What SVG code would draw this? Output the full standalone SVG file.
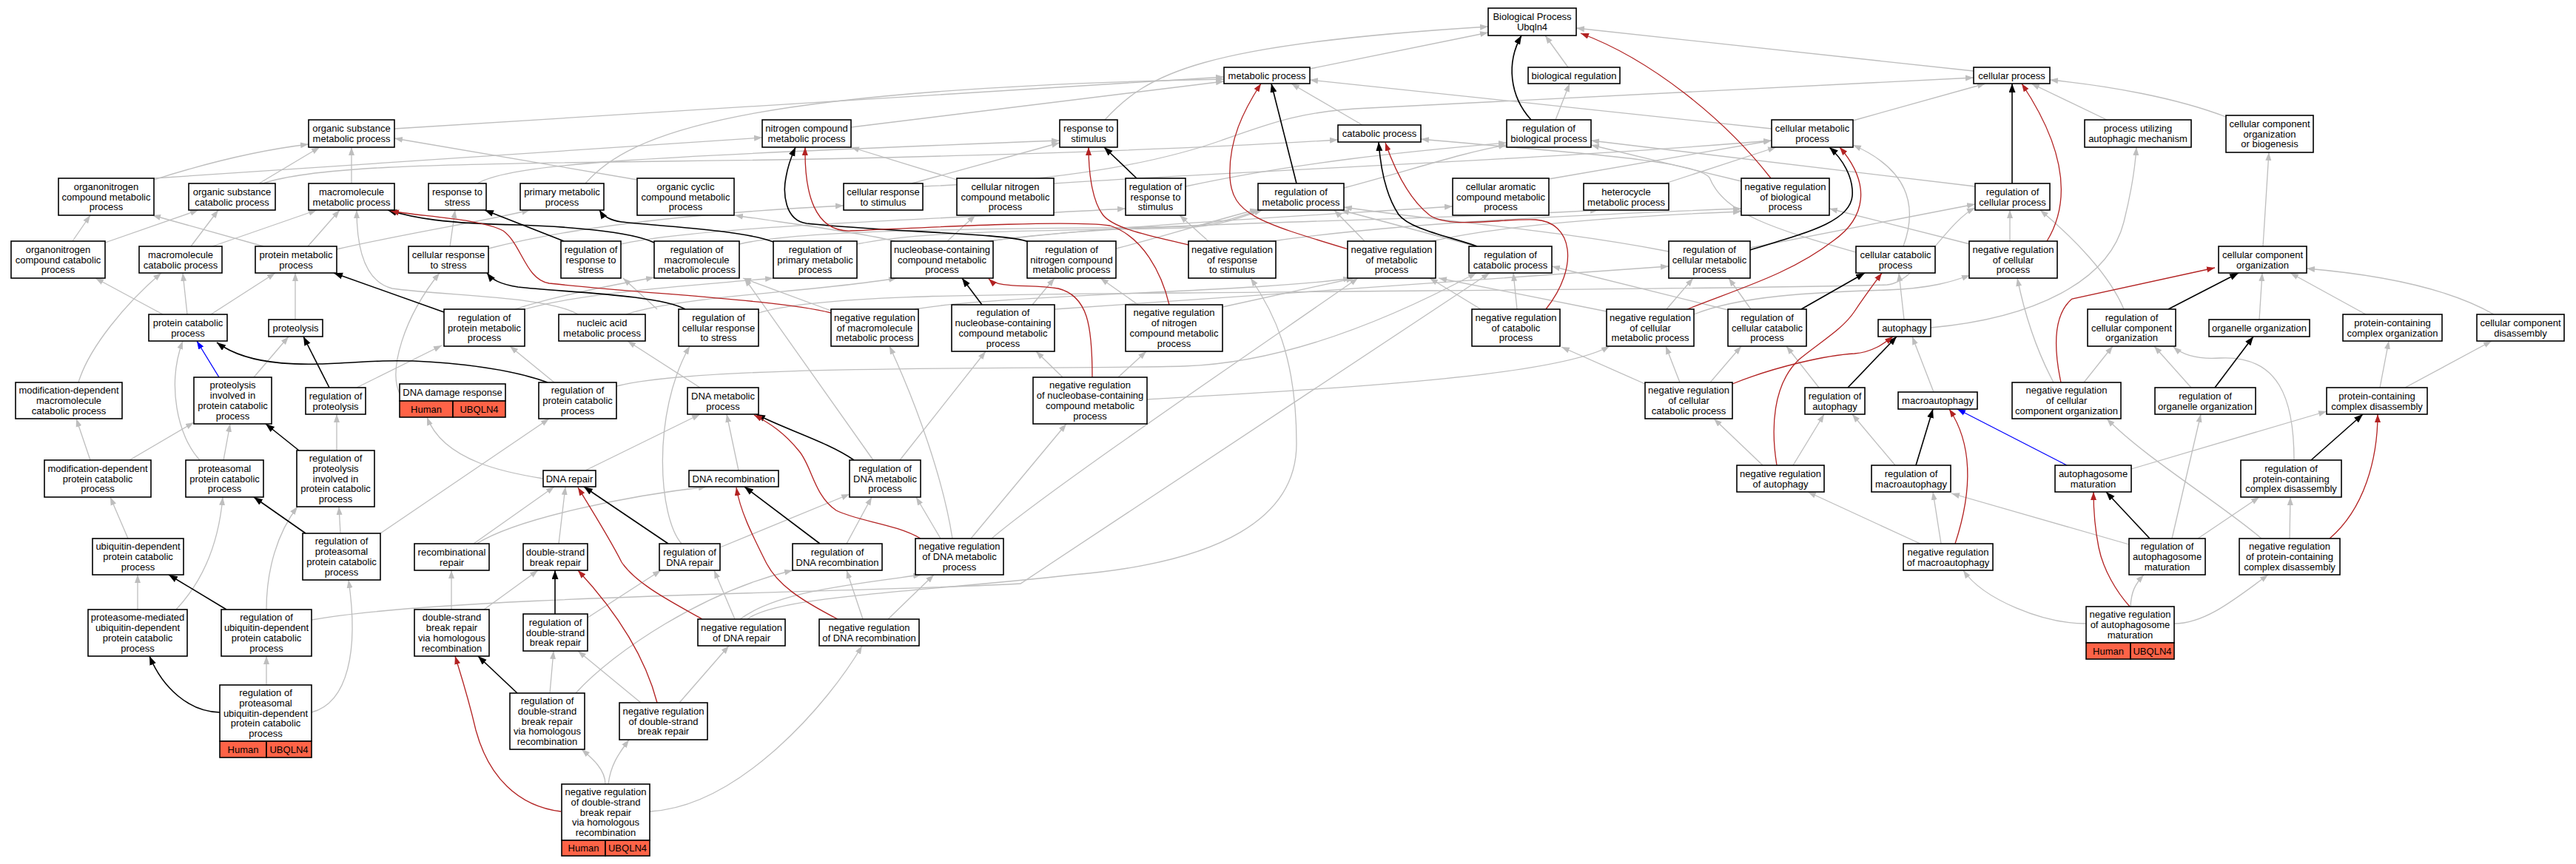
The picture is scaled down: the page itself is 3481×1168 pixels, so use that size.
<svg xmlns="http://www.w3.org/2000/svg" width="3481" height="1168" viewBox="0 0 3481 1168">
<style>
.g{fill:none;stroke:#bebebe;stroke-width:1.3;marker-end:url(#ag)}
.k{fill:none;stroke:#000;stroke-width:1.6;marker-end:url(#ak)}
.r{fill:none;stroke:#b22222;stroke-width:1.3;marker-end:url(#ar)}
.b{fill:none;stroke:#0000ff;stroke-width:1.3;marker-end:url(#ab)}
.n rect{fill:#fff;stroke:#000;stroke-width:1.6}
.n rect.h{fill:#ff6347}
text{font-family:"Liberation Sans",Arial,Helvetica,sans-serif;font-size:13px;text-anchor:middle;fill:#000}
</style>
<defs>
<marker id="ag" markerUnits="userSpaceOnUse" markerWidth="12" markerHeight="9" refX="11" refY="4.5" orient="auto"><path d="M0,0.5 L11,4.5 L0,8.5 z" fill="#bebebe"/></marker>
<marker id="ab" markerUnits="userSpaceOnUse" markerWidth="12" markerHeight="9" refX="11" refY="4.5" orient="auto"><path d="M0,0.5 L11,4.5 L0,8.5 z" fill="#0000ff"/></marker>
<marker id="ak" markerUnits="userSpaceOnUse" markerWidth="13" markerHeight="10" refX="12" refY="4.5" orient="auto"><path d="M0,0 L12,4.5 L0,9 z" fill="#000"/></marker>
<marker id="ar" markerUnits="userSpaceOnUse" markerWidth="12" markerHeight="9" refX="11" refY="4" orient="auto"><path d="M0,0 L11,4 L0,8 z" fill="#b22222"/></marker>
</defs>
<rect x="0" y="0" width="3481" height="1168" fill="#fff"/>
<g id="edges">
<path class="g" d="M1770 93 L2011 44"/>
<path class="g" d="M1493 162 C1550 100 1620 60 2011 36"/>
<path class="g" d="M2667 96 L2130 38"/>
<path class="g" d="M2119 91 L2088 48"/>
<path class="g" d="M2102 162 L2121 113"/>
<path class="g" d="M533 174 L1654 104"/>
<path class="g" d="M1150 172 L1654 110"/>
<path class="g" d="M1841 169 L1745 113"/>
<path class="g" d="M791 248 C850 180 1000 120 1654 107"/>
<path class="g" d="M2394 174 L1770 108"/>
<path class="g" d="M2504 163 L2683 113"/>
<path class="g" d="M2847 162 L2745 113"/>
<path class="g" d="M3008 158 C2940 132 2850 116 2770 108"/>
<path class="g" d="M1247 252 C1420 245 1550 225 1650 190 C1720 165 1760 150 1850 146 L2667 105"/>
<path class="g" d="M208 243 C280 220 350 203 417 195"/>
<path class="g" d="M208 241 L1030 186"/>
<path class="g" d="M350 248 L432 199"/>
<path class="g" d="M355 248 C420 226 560 222 900 218 C1100 216 1500 208 1808 189"/>
<path class="g" d="M475 248 L475 199"/>
<path class="g" d="M645 248 C690 222 850 212 1432 190"/>
<path class="g" d="M861 243 L533 187"/>
<path class="g" d="M1232 248 L1432 193"/>
<path class="g" d="M1293 243 L1150 199"/>
<path class="g" d="M1424 248 C1700 230 2100 215 2394 190"/>
<path class="g" d="M1602 252 C1750 220 1900 205 2036 193"/>
<path class="g" d="M1816 254 C1900 232 1980 205 2036 196"/>
<path class="g" d="M2669 252 L2150 190"/>
<path class="g" d="M2353 245 L2150 196"/>
<path class="g" d="M2093 242 L2394 190"/>
<path class="g" d="M2250 248 L2400 199"/>
<path class="g" d="M2572 333 C2595 270 2570 225 2504 196"/>
<path class="g" d="M2508 341 C2400 310 2330 290 2310 240 C2290 215 2100 205 1920 188"/>
<path class="g" d="M2716 326 L2716 284"/>
<path class="g" d="M2662 330 L2472 282"/>
<path class="g" d="M3058 333 L3066 206"/>
<path class="g" d="M98 326 L122 291"/>
<path class="g" d="M142 328 L268 284"/>
<path class="g" d="M258 333 L295 284"/>
<path class="g" d="M287 333 L428 284"/>
<path class="g" d="M416 333 L459 284"/>
<path class="g" d="M356 333 L206 291"/>
<path class="g" d="M455 337 C550 315 650 300 716 284"/>
<path class="g" d="M608 333 L615 284"/>
<path class="g" d="M660 336 C800 300 1000 285 1140 278"/>
<path class="g" d="M839 330 C950 305 1300 295 1521 282"/>
<path class="g" d="M999 330 C1100 306 1450 310 1600 306 C1650 304 1680 290 1702 284"/>
<path class="g" d="M1158 330 C1250 310 1450 312 1600 308 C1650 306 1680 292 1706 284"/>
<path class="g" d="M1280 326 L1318 291"/>
<path class="g" d="M1210 326 C1150 312 1050 300 993 291"/>
<path class="g" d="M1335 326 C1500 305 1800 290 1963 279"/>
<path class="g" d="M1338 326 C1500 300 1900 300 2160 284"/>
<path class="g" d="M1508 336 C1580 318 1650 295 1700 283"/>
<path class="g" d="M1633 326 L1594 291"/>
<path class="g" d="M1720 326 C1900 300 2150 290 2353 282"/>
<path class="g" d="M1844 326 L1803 284"/>
<path class="g" d="M1935 326 C2050 300 2250 290 2353 286"/>
<path class="g" d="M1995 333 L1812 284"/>
<path class="g" d="M2255 340 C2100 310 1950 300 1816 280"/>
<path class="g" d="M2365 335 L2669 276"/>
<path class="g" d="M253 425 L247 369"/>
<path class="g" d="M285 425 L372 369"/>
<path class="g" d="M220 425 L129 376"/>
<path class="g" d="M399 432 L399 369"/>
<path class="g" d="M696 418 C750 400 830 385 884 375"/>
<path class="g" d="M703 420 C780 395 950 385 1045 376"/>
<path class="g" d="M781 425 C740 400 600 400 530 390 C490 380 482 330 482 284"/>
<path class="g" d="M846 425 C920 400 1100 395 1212 376"/>
<path class="g" d="M888 418 L842 376"/>
<path class="g" d="M1025 423 C1100 400 1300 398 1600 396 C2000 392 2400 390 2550 385 C2590 382 2630 300 2669 281"/>
<path class="g" d="M1123 420 L1004 376"/>
<path class="g" d="M1236 418 C1350 398 1700 395 1826 376"/>
<path class="g" d="M1395 412 L1425 376"/>
<path class="g" d="M1425 418 C1700 400 2100 370 2255 360"/>
<path class="g" d="M1538 412 L1487 376"/>
<path class="g" d="M1652 415 L1830 376"/>
<path class="g" d="M2050 418 L2045 369"/>
<path class="g" d="M2001 418 L1932 376"/>
<path class="g" d="M2252 418 L2288 376"/>
<path class="g" d="M2171 421 L1944 376"/>
<path class="g" d="M2289 425 C2350 400 2450 395 2550 392 C2610 390 2640 380 2662 372"/>
<path class="g" d="M2366 418 L2336 376"/>
<path class="g" d="M2339 420 L2097 360"/>
<path class="g" d="M2573 432 L2566 369"/>
<path class="g" d="M2609 443 C2750 430 2850 380 2870 300 C2880 260 2885 230 2887 199"/>
<path class="g" d="M2870 418 C2850 370 2800 320 2757 284"/>
<path class="g" d="M3053 432 L3057 369"/>
<path class="g" d="M3197 425 L3095 369"/>
<path class="g" d="M3370 425 C3300 385 3200 370 3117 363"/>
<path class="g" d="M106 517 C120 470 170 410 218 369"/>
<path class="g" d="M343 510 L390 455"/>
<path class="g" d="M482 524 L597 467"/>
<path class="g" d="M540 532 C525 500 545 430 594 369"/>
<path class="g" d="M749 517 L689 468"/>
<path class="g" d="M833 522 C950 492 1400 500 1600 495 C1750 490 1900 420 1995 369"/>
<path class="g" d="M946 524 L848 461"/>
<path class="g" d="M1436 510 L1400 475"/>
<path class="g" d="M1511 510 L1549 475"/>
<path class="g" d="M1550 540 C1800 525 2100 510 2175 468"/>
<path class="g" d="M2423 629 L2465 560"/>
<path class="g" d="M2382 629 L2316 566"/>
<path class="g" d="M2561 629 L2503 560"/>
<path class="g" d="M2880 634 L3144 556"/>
<path class="g" d="M3100 622 C3100 540 3080 480 3000 484 C2970 486 2950 480 2937 469"/>
<path class="g" d="M2623 735 L2612 665"/>
<path class="g" d="M2595 735 L2443 665"/>
<path class="g" d="M2877 736 L2637 667"/>
<path class="g" d="M2935 728 L2974 560"/>
<path class="g" d="M2970 728 L3053 672"/>
<path class="g" d="M3094 728 L3095 672"/>
<path class="g" d="M3056 728 C3000 680 2900 620 2847 566"/>
<path class="g" d="M2816 517 L2855 468"/>
<path class="g" d="M2775 517 C2750 470 2735 420 2726 376"/>
<path class="g" d="M2961 524 L2911 468"/>
<path class="g" d="M3216 524 L3228 461"/>
<path class="g" d="M3250 524 L3367 461"/>
<path class="g" d="M2458 524 L2414 468"/>
<path class="g" d="M2613 530 L2584 455"/>
<path class="g" d="M2311 517 L2353 468"/>
<path class="g" d="M2270 517 L2251 468"/>
<path class="g" d="M2223 519 L2110 469"/>
<path class="g" d="M122 622 L103 566"/>
<path class="g" d="M175 622 L262 571"/>
<path class="g" d="M302 622 L311 573"/>
<path class="g" d="M270 622 C240 590 225 520 247 461"/>
<path class="g" d="M455 609 L455 560"/>
<path class="g" d="M734 647 C690 640 600 625 577 564"/>
<path class="g" d="M791 636 L946 560"/>
<path class="g" d="M998 636 L982 560"/>
<path class="g" d="M1216 622 L1332 475"/>
<path class="g" d="M1180 622 L1006 376"/>
<path class="g" d="M173 728 L149 672"/>
<path class="g" d="M460 721 L458 685"/>
<path class="g" d="M514 721 L742 566"/>
<path class="g" d="M640 735 L749 658"/>
<path class="g" d="M644 735 C700 700 850 670 955 658"/>
<path class="g" d="M755 735 L764 658"/>
<path class="g" d="M973 740 L1148 668"/>
<path class="g" d="M921 735 C890 700 880 560 932 468"/>
<path class="g" d="M1144 735 L1178 672"/>
<path class="g" d="M1271 728 L1238 672"/>
<path class="g" d="M1312 728 L1441 573"/>
<path class="g" d="M1287 728 C1275 650 1240 550 1202 468"/>
<path class="g" d="M1340 728 C1420 660 1700 470 1835 376"/>
<path class="g" d="M186 824 L186 777"/>
<path class="g" d="M238 824 C270 790 295 740 301 672"/>
<path class="g" d="M360 824 C360 770 375 720 402 685"/>
<path class="g" d="M421 838 C600 805 1200 800 1379 789 L2013 369"/>
<path class="g" d="M610 824 L610 771"/>
<path class="g" d="M654 824 L727 771"/>
<path class="g" d="M794 835 L893 771"/>
<path class="g" d="M993 837 L965 771"/>
<path class="g" d="M1000 837 C1050 800 1150 790 1245 777"/>
<path class="g" d="M1010 837 C1050 805 1250 800 1450 777 C1650 760 1752 700 1752 600 C1752 480 1720 420 1690 376"/>
<path class="g" d="M1166 837 L1144 771"/>
<path class="g" d="M1200 837 L1262 777"/>
<path class="g" d="M360 926 L360 887"/>
<path class="g" d="M421 963 C470 950 485 880 471 784"/>
<path class="g" d="M743 937 L748 880"/>
<path class="g" d="M778 937 C830 880 950 800 1071 771"/>
<path class="g" d="M866 950 L781 880"/>
<path class="g" d="M918 950 L985 873"/>
<path class="g" d="M818 1060 C818 1040 800 1025 786 1013"/>
<path class="g" d="M822 1060 C825 1035 835 1020 850 1000"/>
<path class="g" d="M878 1097 C1000 1090 1120 950 1165 873"/>
<path class="g" d="M2879 820 C2880 800 2885 790 2897 777"/>
<path class="g" d="M2819 843 C2760 843 2680 810 2653 771"/>
<path class="g" d="M2938 843 C2980 843 3020 810 3065 777"/>
<path class="k" d="M2069 162 C2040 130 2035 85 2056 48"/>
<path class="k" d="M1752 248 L1718 113"/>
<path class="k" d="M1536 241 L1492 199"/>
<path class="k" d="M762 326 L655 284"/>
<path class="k" d="M2719 248 L2719 113"/>
<path class="k" d="M2365 338 C2440 315 2500 300 2503 265 C2505 240 2490 215 2472 199"/>
<path class="k" d="M1996 333 C1960 320 1905 310 1890 290 C1870 260 1865 220 1863 192"/>
<path class="k" d="M884 328 C850 312 760 306 700 304 C600 302 560 295 524 284"/>
<path class="k" d="M1045 327 C1000 310 880 305 840 300 C825 298 815 292 810 284"/>
<path class="k" d="M1390 327 C1360 315 1200 314 1090 302 C1060 298 1058 260 1062 240 C1065 222 1070 210 1075 199"/>
<path class="k" d="M1327 412 L1300 376"/>
<path class="k" d="M600 422 L451 369"/>
<path class="k" d="M926 418 C890 398 760 395 700 388 C675 384 665 378 658 369"/>
<path class="k" d="M740 517 C680 495 580 486 517 488 C450 490 350 505 293 463"/>
<path class="k" d="M445 524 L410 455"/>
<path class="k" d="M404 609 L359 573"/>
<path class="k" d="M413 721 L343 672"/>
<path class="k" d="M306 824 L228 777"/>
<path class="k" d="M297 963 C255 962 220 930 202 887"/>
<path class="k" d="M903 735 L789 658"/>
<path class="k" d="M1108 735 L1006 658"/>
<path class="k" d="M1154 622 C1120 598 1060 580 1022 560"/>
<path class="k" d="M750 830 L750 771"/>
<path class="k" d="M699 937 L646 887"/>
<path class="k" d="M2434 418 L2520 369"/>
<path class="k" d="M2497 524 L2563 455"/>
<path class="k" d="M2589 629 L2612 553"/>
<path class="k" d="M2905 728 L2846 665"/>
<path class="k" d="M3123 622 L3193 560"/>
<path class="k" d="M2930 418 L3025 369"/>
<path class="k" d="M2993 524 L3045 455"/>
<path class="r" d="M2393 241 C2330 160 2230 80 2136 45"/>
<path class="r" d="M1822 337 C1700 300 1665 290 1662 240 C1660 190 1680 150 1704 113"/>
<path class="r" d="M1606 331 C1560 320 1505 310 1490 290 C1475 270 1471 230 1471 199"/>
<path class="r" d="M1580 412 C1570 370 1545 320 1500 305 C1450 298 1300 305 1150 312 C1100 314 1087 260 1088 199"/>
<path class="r" d="M1476 510 C1476 440 1470 400 1430 390 C1390 384 1350 390 1336 377"/>
<path class="r" d="M1123 423 C1050 405 880 398 742 383 C710 378 705 330 680 312 C650 295 560 292 528 285"/>
<path class="r" d="M2089 418 C2135 360 2125 300 2075 297 C2030 295 1960 310 1932 291 C1905 270 1885 230 1872 193"/>
<path class="r" d="M2280 418 C2350 390 2420 370 2478 325 C2520 295 2530 250 2486 199"/>
<path class="r" d="M2341 519 C2400 495 2470 480 2506 478 C2530 476 2545 465 2558 455"/>
<path class="r" d="M2401 629 C2393 580 2395 520 2431 486 C2460 462 2490 445 2506 421 C2520 400 2532 384 2543 369"/>
<path class="r" d="M2642 735 C2660 680 2672 610 2634 553"/>
<path class="r" d="M2878 820 C2860 800 2842 770 2836 740 C2830 710 2829 690 2829 665"/>
<path class="r" d="M3148 728 C3195 688 3213 620 3213 560"/>
<path class="r" d="M2785 517 C2775 470 2775 425 2800 404 L2993 362"/>
<path class="r" d="M2766 326 C2800 270 2790 200 2732 113"/>
<path class="r" d="M1244 728 C1210 708 1160 705 1130 690 C1100 670 1097 630 1080 610 C1060 585 1040 572 1019 561"/>
<path class="r" d="M949 837 C910 815 860 790 840 760 C825 730 800 690 781 659"/>
<path class="r" d="M1132 837 C1080 810 1050 790 1035 760 C1015 720 1000 690 995 659"/>
<path class="r" d="M888 950 C875 900 845 840 781 771"/>
<path class="r" d="M758 1097 C700 1090 660 1050 643 987 C632 940 622 910 615 887"/>
<path class="b" d="M296 510 L266 461"/>
<path class="b" d="M2793 629 L2645 553"/>
</g>
<g id="n_bp" class="n"><rect x="2011" y="11" width="119" height="37"/><text x="2070.5" y="27.2">Biological Process</text><text x="2070.5" y="41">Ubqln4</text></g>
<g id="n_met" class="n"><rect x="1654" y="91" width="116" height="22"/><text x="1712" y="106.6">metabolic process</text></g>
<g id="n_bioreg" class="n"><rect x="2065" y="91" width="124" height="22"/><text x="2127" y="106.6">biological regulation</text></g>
<g id="n_cp" class="n"><rect x="2667" y="91" width="103" height="22"/><text x="2718.5" y="106.6">cellular process</text></g>
<g id="n_osmp" class="n"><rect x="417" y="162" width="116" height="37"/><text x="475" y="178.2">organic substance</text><text x="475" y="192">metabolic process</text></g>
<g id="n_ncmp" class="n"><rect x="1030" y="162" width="120" height="37"/><text x="1090" y="178.2">nitrogen compound</text><text x="1090" y="192">metabolic process</text></g>
<g id="n_rts" class="n"><rect x="1432" y="162" width="78" height="37"/><text x="1471" y="178.2">response to</text><text x="1471" y="192">stimulus</text></g>
<g id="n_cat" class="n"><rect x="1808" y="169" width="112" height="23"/><text x="1864" y="185.1">catabolic process</text></g>
<g id="n_rbp" class="n"><rect x="2036" y="162" width="114" height="37"/><text x="2093" y="178.2">regulation of</text><text x="2093" y="192">biological process</text></g>
<g id="n_cmp" class="n"><rect x="2394" y="162" width="110" height="37"/><text x="2449" y="178.2">cellular metabolic</text><text x="2449" y="192">process</text></g>
<g id="n_puam" class="n"><rect x="2817" y="162" width="144" height="37"/><text x="2889" y="178.2">process utilizing</text><text x="2889" y="192">autophagic mechanism</text></g>
<g id="n_ccob" class="n"><rect x="3008" y="156" width="118" height="50"/><text x="3067" y="171.8">cellular component</text><text x="3067" y="185.6">organization</text><text x="3067" y="199.4">or biogenesis</text></g>
<g id="n_oncmp" class="n"><rect x="79" y="241" width="129" height="50"/><text x="143.5" y="256.8">organonitrogen</text><text x="143.5" y="270.6">compound metabolic</text><text x="143.5" y="284.4">process</text></g>
<g id="n_oscp" class="n"><rect x="255" y="248" width="117" height="36"/><text x="313.5" y="263.7">organic substance</text><text x="313.5" y="277.5">catabolic process</text></g>
<g id="n_mmp" class="n"><rect x="417" y="248" width="116" height="36"/><text x="475" y="263.7">macromolecule</text><text x="475" y="277.5">metabolic process</text></g>
<g id="n_rstress" class="n"><rect x="579" y="248" width="78" height="36"/><text x="618" y="263.7">response to</text><text x="618" y="277.5">stress</text></g>
<g id="n_pmp" class="n"><rect x="703" y="248" width="113" height="36"/><text x="759.5" y="263.7">primary metabolic</text><text x="759.5" y="277.5">process</text></g>
<g id="n_occmp" class="n"><rect x="861" y="241" width="131" height="50"/><text x="926.5" y="256.8">organic cyclic</text><text x="926.5" y="270.6">compound metabolic</text><text x="926.5" y="284.4">process</text></g>
<g id="n_crs2" class="n"><rect x="1140" y="248" width="107" height="36"/><text x="1193.5" y="263.7">cellular response</text><text x="1193.5" y="277.5">to stimulus</text></g>
<g id="n_cncmp" class="n"><rect x="1293" y="241" width="131" height="50"/><text x="1358.5" y="256.8">cellular nitrogen</text><text x="1358.5" y="270.6">compound metabolic</text><text x="1358.5" y="284.4">process</text></g>
<g id="n_rrstim" class="n"><rect x="1521" y="241" width="81" height="50"/><text x="1561.5" y="256.8">regulation of</text><text x="1561.5" y="270.6">response to</text><text x="1561.5" y="284.4">stimulus</text></g>
<g id="n_rmp" class="n"><rect x="1700" y="248" width="116" height="36"/><text x="1758" y="263.7">regulation of</text><text x="1758" y="277.5">metabolic process</text></g>
<g id="n_cacmp" class="n"><rect x="1963" y="241" width="130" height="50"/><text x="2028" y="256.8">cellular aromatic</text><text x="2028" y="270.6">compound metabolic</text><text x="2028" y="284.4">process</text></g>
<g id="n_hmp" class="n"><rect x="2140" y="248" width="115" height="36"/><text x="2197.5" y="263.7">heterocycle</text><text x="2197.5" y="277.5">metabolic process</text></g>
<g id="n_nrbp" class="n"><rect x="2353" y="241" width="119" height="50"/><text x="2412.5" y="256.8">negative regulation</text><text x="2412.5" y="270.6">of biological</text><text x="2412.5" y="284.4">process</text></g>
<g id="n_rcp" class="n"><rect x="2669" y="248" width="101" height="36"/><text x="2719.5" y="263.7">regulation of</text><text x="2719.5" y="277.5">cellular process</text></g>
<g id="n_onccp" class="n"><rect x="15" y="326" width="127" height="50"/><text x="78.5" y="341.8">organonitrogen</text><text x="78.5" y="355.6">compound catabolic</text><text x="78.5" y="369.4">process</text></g>
<g id="n_mcp" class="n"><rect x="188" y="333" width="112" height="36"/><text x="244" y="348.7">macromolecule</text><text x="244" y="362.5">catabolic process</text></g>
<g id="n_protmp" class="n"><rect x="345" y="333" width="110" height="36"/><text x="400" y="348.7">protein metabolic</text><text x="400" y="362.5">process</text></g>
<g id="n_crstress" class="n"><rect x="552" y="333" width="108" height="36"/><text x="606" y="348.7">cellular response</text><text x="606" y="362.5">to stress</text></g>
<g id="n_rrstress" class="n"><rect x="758" y="326" width="81" height="50"/><text x="798.5" y="341.8">regulation of</text><text x="798.5" y="355.6">response to</text><text x="798.5" y="369.4">stress</text></g>
<g id="n_rmmp" class="n"><rect x="884" y="326" width="115" height="50"/><text x="941.5" y="341.8">regulation of</text><text x="941.5" y="355.6">macromolecule</text><text x="941.5" y="369.4">metabolic process</text></g>
<g id="n_rpmp" class="n"><rect x="1045" y="326" width="113" height="50"/><text x="1101.5" y="341.8">regulation of</text><text x="1101.5" y="355.6">primary metabolic</text><text x="1101.5" y="369.4">process</text></g>
<g id="n_nccmp" class="n"><rect x="1204" y="326" width="138" height="50"/><text x="1273" y="341.8">nucleobase-containing</text><text x="1273" y="355.6">compound metabolic</text><text x="1273" y="369.4">process</text></g>
<g id="n_rncmp" class="n"><rect x="1388" y="326" width="120" height="50"/><text x="1448" y="341.8">regulation of</text><text x="1448" y="355.6">nitrogen compound</text><text x="1448" y="369.4">metabolic process</text></g>
<g id="n_nrrs" class="n"><rect x="1606" y="326" width="118" height="50"/><text x="1665" y="341.8">negative regulation</text><text x="1665" y="355.6">of response</text><text x="1665" y="369.4">to stimulus</text></g>
<g id="n_nrmp" class="n"><rect x="1821" y="326" width="119" height="50"/><text x="1880.5" y="341.8">negative regulation</text><text x="1880.5" y="355.6">of metabolic</text><text x="1880.5" y="369.4">process</text></g>
<g id="n_rcatp" class="n"><rect x="1985" y="333" width="112" height="36"/><text x="2041" y="348.7">regulation of</text><text x="2041" y="362.5">catabolic process</text></g>
<g id="n_rcmp" class="n"><rect x="2255" y="326" width="110" height="50"/><text x="2310" y="341.8">regulation of</text><text x="2310" y="355.6">cellular metabolic</text><text x="2310" y="369.4">process</text></g>
<g id="n_ccatp" class="n"><rect x="2508" y="333" width="107" height="36"/><text x="2561.5" y="348.7">cellular catabolic</text><text x="2561.5" y="362.5">process</text></g>
<g id="n_nrcp" class="n"><rect x="2661" y="326" width="119" height="50"/><text x="2720.5" y="341.8">negative regulation</text><text x="2720.5" y="355.6">of cellular</text><text x="2720.5" y="369.4">process</text></g>
<g id="n_cco" class="n"><rect x="2998" y="333" width="119" height="36"/><text x="3057.5" y="348.7">cellular component</text><text x="3057.5" y="362.5">organization</text></g>
<g id="n_pcp" class="n"><rect x="201" y="425" width="106" height="36"/><text x="254" y="440.7">protein catabolic</text><text x="254" y="454.5">process</text></g>
<g id="n_prot" class="n"><rect x="363" y="432" width="73" height="23"/><text x="399.5" y="448.1">proteolysis</text></g>
<g id="n_rprotmp" class="n"><rect x="600" y="418" width="109" height="50"/><text x="654.5" y="433.8">regulation of</text><text x="654.5" y="447.6">protein metabolic</text><text x="654.5" y="461.4">process</text></g>
<g id="n_namp" class="n"><rect x="755" y="425" width="117" height="36"/><text x="813.5" y="440.7">nucleic acid</text><text x="813.5" y="454.5">metabolic process</text></g>
<g id="n_rcrs" class="n"><rect x="917" y="418" width="108" height="50"/><text x="971" y="433.8">regulation of</text><text x="971" y="447.6">cellular response</text><text x="971" y="461.4">to stress</text></g>
<g id="n_nrmmp" class="n"><rect x="1123" y="418" width="118" height="50"/><text x="1182" y="433.8">negative regulation</text><text x="1182" y="447.6">of macromolecule</text><text x="1182" y="461.4">metabolic process</text></g>
<g id="n_rnccmp" class="n"><rect x="1286" y="412" width="139" height="63"/><text x="1355.5" y="427.4">regulation of</text><text x="1355.5" y="441.2">nucleobase-containing</text><text x="1355.5" y="455">compound metabolic</text><text x="1355.5" y="468.8">process</text></g>
<g id="n_nrncmp" class="n"><rect x="1521" y="412" width="131" height="63"/><text x="1586.5" y="427.4">negative regulation</text><text x="1586.5" y="441.2">of nitrogen</text><text x="1586.5" y="455">compound metabolic</text><text x="1586.5" y="468.8">process</text></g>
<g id="n_nrcatp" class="n"><rect x="1989" y="418" width="119" height="50"/><text x="2048.5" y="433.8">negative regulation</text><text x="2048.5" y="447.6">of catabolic</text><text x="2048.5" y="461.4">process</text></g>
<g id="n_nrcmp" class="n"><rect x="2171" y="418" width="118" height="50"/><text x="2230" y="433.8">negative regulation</text><text x="2230" y="447.6">of cellular</text><text x="2230" y="461.4">metabolic process</text></g>
<g id="n_rccatp" class="n"><rect x="2335" y="418" width="106" height="50"/><text x="2388" y="433.8">regulation of</text><text x="2388" y="447.6">cellular catabolic</text><text x="2388" y="461.4">process</text></g>
<g id="n_auto" class="n"><rect x="2538" y="432" width="71" height="23"/><text x="2573.5" y="448.1">autophagy</text></g>
<g id="n_rcco" class="n"><rect x="2821" y="418" width="119" height="50"/><text x="2880.5" y="433.8">regulation of</text><text x="2880.5" y="447.6">cellular component</text><text x="2880.5" y="461.4">organization</text></g>
<g id="n_oo" class="n"><rect x="2985" y="432" width="136" height="23"/><text x="3053" y="448.1">organelle organization</text></g>
<g id="n_pcco" class="n"><rect x="3166" y="425" width="134" height="36"/><text x="3233" y="440.7">protein-containing</text><text x="3233" y="454.5">complex organization</text></g>
<g id="n_ccd" class="n"><rect x="3347" y="425" width="118" height="36"/><text x="3406" y="440.7">cellular component</text><text x="3406" y="454.5">disassembly</text></g>
<g id="n_mdmcp" class="n"><rect x="21" y="517" width="144" height="49"/><text x="93" y="532.3">modification-dependent</text><text x="93" y="546.1">macromolecule</text><text x="93" y="559.9">catabolic process</text></g>
<g id="n_pipcp" class="n"><rect x="262" y="510" width="105" height="63"/><text x="314.5" y="525.4">proteolysis</text><text x="314.5" y="539.2">involved in</text><text x="314.5" y="553">protein catabolic</text><text x="314.5" y="566.8">process</text></g>
<g id="n_rprot" class="n"><rect x="413" y="524" width="81" height="36"/><text x="453.5" y="539.7">regulation of</text><text x="453.5" y="553.5">proteolysis</text></g>
<g id="n_ddr" class="n"><rect x="540" y="519" width="143" height="23"/><rect class="h" x="540" y="542" width="72" height="22"/><rect class="h" x="612" y="542" width="71" height="22"/><text x="611.5" y="535.1">DNA damage response</text><text x="576" y="557.6">Human</text><text x="647.5" y="557.6">UBQLN4</text></g>
<g id="n_rpcp" class="n"><rect x="728" y="517" width="105" height="49"/><text x="780.5" y="532.3">regulation of</text><text x="780.5" y="546.1">protein catabolic</text><text x="780.5" y="559.9">process</text></g>
<g id="n_dmp" class="n"><rect x="929" y="524" width="96" height="36"/><text x="977" y="539.7">DNA metabolic</text><text x="977" y="553.5">process</text></g>
<g id="n_nrnccmp" class="n"><rect x="1396" y="510" width="154" height="63"/><text x="1473" y="525.4">negative regulation</text><text x="1473" y="539.2">of nucleobase-containing</text><text x="1473" y="553">compound metabolic</text><text x="1473" y="566.8">process</text></g>
<g id="n_nrccatp" class="n"><rect x="2223" y="517" width="118" height="49"/><text x="2282" y="532.3">negative regulation</text><text x="2282" y="546.1">of cellular</text><text x="2282" y="559.9">catabolic process</text></g>
<g id="n_rauto" class="n"><rect x="2439" y="524" width="81" height="36"/><text x="2479.5" y="539.7">regulation of</text><text x="2479.5" y="553.5">autophagy</text></g>
<g id="n_macro" class="n"><rect x="2565" y="530" width="107" height="23"/><text x="2618.5" y="546.1">macroautophagy</text></g>
<g id="n_nrcco" class="n"><rect x="2719" y="517" width="147" height="49"/><text x="2792.5" y="532.3">negative regulation</text><text x="2792.5" y="546.1">of cellular</text><text x="2792.5" y="559.9">component organization</text></g>
<g id="n_roo" class="n"><rect x="2912" y="524" width="136" height="36"/><text x="2980" y="539.7">regulation of</text><text x="2980" y="553.5">organelle organization</text></g>
<g id="n_pccd" class="n"><rect x="3144" y="524" width="136" height="36"/><text x="3212" y="539.7">protein-containing</text><text x="3212" y="553.5">complex disassembly</text></g>
<g id="n_mdpcp" class="n"><rect x="60" y="622" width="144" height="50"/><text x="132" y="637.8">modification-dependent</text><text x="132" y="651.6">protein catabolic</text><text x="132" y="665.4">process</text></g>
<g id="n_ppcp" class="n"><rect x="251" y="622" width="105" height="50"/><text x="303.5" y="637.8">proteasomal</text><text x="303.5" y="651.6">protein catabolic</text><text x="303.5" y="665.4">process</text></g>
<g id="n_rpipcp" class="n"><rect x="401" y="609" width="105" height="76"/><text x="453.5" y="624">regulation of</text><text x="453.5" y="637.8">proteolysis</text><text x="453.5" y="651.6">involved in</text><text x="453.5" y="665.4">protein catabolic</text><text x="453.5" y="679.2">process</text></g>
<g id="n_dnarep" class="n"><rect x="734" y="636" width="71" height="22"/><text x="769.5" y="651.6">DNA repair</text></g>
<g id="n_dnarec" class="n"><rect x="931" y="636" width="121" height="22"/><text x="991.5" y="651.6">DNA recombination</text></g>
<g id="n_rdmp" class="n"><rect x="1148" y="622" width="96" height="50"/><text x="1196" y="637.8">regulation of</text><text x="1196" y="651.6">DNA metabolic</text><text x="1196" y="665.4">process</text></g>
<g id="n_nrauto" class="n"><rect x="2347" y="629" width="118" height="36"/><text x="2406" y="644.7">negative regulation</text><text x="2406" y="658.5">of autophagy</text></g>
<g id="n_rmacro" class="n"><rect x="2529" y="629" width="107" height="36"/><text x="2582.5" y="644.7">regulation of</text><text x="2582.5" y="658.5">macroautophagy</text></g>
<g id="n_apm" class="n"><rect x="2777" y="629" width="103" height="36"/><text x="2828.5" y="644.7">autophagosome</text><text x="2828.5" y="658.5">maturation</text></g>
<g id="n_rpccd" class="n"><rect x="3028" y="622" width="136" height="50"/><text x="3096" y="637.8">regulation of</text><text x="3096" y="651.6">protein-containing</text><text x="3096" y="665.4">complex disassembly</text></g>
<g id="n_udpcp" class="n"><rect x="125" y="728" width="123" height="49"/><text x="186.5" y="743.3">ubiquitin-dependent</text><text x="186.5" y="757.1">protein catabolic</text><text x="186.5" y="770.9">process</text></g>
<g id="n_rppcp" class="n"><rect x="409" y="721" width="105" height="63"/><text x="461.5" y="736.4">regulation of</text><text x="461.5" y="750.2">proteasomal</text><text x="461.5" y="764">protein catabolic</text><text x="461.5" y="777.8">process</text></g>
<g id="n_rr" class="n"><rect x="560" y="735" width="101" height="36"/><text x="610.5" y="750.7">recombinational</text><text x="610.5" y="764.5">repair</text></g>
<g id="n_dsbr" class="n"><rect x="707" y="735" width="87" height="36"/><text x="750.5" y="750.7">double-strand</text><text x="750.5" y="764.5">break repair</text></g>
<g id="n_rdr" class="n"><rect x="891" y="735" width="82" height="36"/><text x="932" y="750.7">regulation of</text><text x="932" y="764.5">DNA repair</text></g>
<g id="n_rdrec" class="n"><rect x="1071" y="735" width="121" height="36"/><text x="1131.5" y="750.7">regulation of</text><text x="1131.5" y="764.5">DNA recombination</text></g>
<g id="n_nrdmp" class="n"><rect x="1237" y="728" width="119" height="49"/><text x="1296.5" y="743.3">negative regulation</text><text x="1296.5" y="757.1">of DNA metabolic</text><text x="1296.5" y="770.9">process</text></g>
<g id="n_nrmacro" class="n"><rect x="2572" y="735" width="121" height="36"/><text x="2632.5" y="750.7">negative regulation</text><text x="2632.5" y="764.5">of macroautophagy</text></g>
<g id="n_rapm" class="n"><rect x="2877" y="728" width="103" height="49"/><text x="2928.5" y="743.3">regulation of</text><text x="2928.5" y="757.1">autophagosome</text><text x="2928.5" y="770.9">maturation</text></g>
<g id="n_nrpccd" class="n"><rect x="3026" y="728" width="136" height="49"/><text x="3094" y="743.3">negative regulation</text><text x="3094" y="757.1">of protein-containing</text><text x="3094" y="770.9">complex disassembly</text></g>
<g id="n_pmudpcp" class="n"><rect x="119" y="824" width="134" height="63"/><text x="186" y="839.4">proteasome-mediated</text><text x="186" y="853.2">ubiquitin-dependent</text><text x="186" y="867">protein catabolic</text><text x="186" y="880.8">process</text></g>
<g id="n_rudpcp" class="n"><rect x="299" y="824" width="122" height="63"/><text x="360" y="839.4">regulation of</text><text x="360" y="853.2">ubiquitin-dependent</text><text x="360" y="867">protein catabolic</text><text x="360" y="880.8">process</text></g>
<g id="n_dsbrhr" class="n"><rect x="560" y="824" width="101" height="63"/><text x="610.5" y="839.4">double-strand</text><text x="610.5" y="853.2">break repair</text><text x="610.5" y="867">via homologous</text><text x="610.5" y="880.8">recombination</text></g>
<g id="n_rdsbr" class="n"><rect x="707" y="830" width="87" height="50"/><text x="750.5" y="845.8">regulation of</text><text x="750.5" y="859.6">double-strand</text><text x="750.5" y="873.4">break repair</text></g>
<g id="n_nrdr" class="n"><rect x="943" y="837" width="118" height="36"/><text x="1002" y="852.7">negative regulation</text><text x="1002" y="866.5">of DNA repair</text></g>
<g id="n_nrdrec" class="n"><rect x="1107" y="837" width="135" height="36"/><text x="1174.5" y="852.7">negative regulation</text><text x="1174.5" y="866.5">of DNA recombination</text></g>
<g id="n_nrapm" class="n"><rect x="2819" y="820" width="119" height="49"/><rect class="h" x="2819" y="869" width="60" height="22"/><rect class="h" x="2879" y="869" width="59" height="22"/><text x="2878.5" y="835.3">negative regulation</text><text x="2878.5" y="849.1">of autophagosome</text><text x="2878.5" y="862.9">maturation</text><text x="2849" y="884.6">Human</text><text x="2908.5" y="884.6">UBQLN4</text></g>
<g id="n_rpudpcp" class="n"><rect x="297" y="926" width="124" height="76"/><rect class="h" x="297" y="1002" width="63" height="22"/><rect class="h" x="360" y="1002" width="61" height="22"/><text x="359" y="941">regulation of</text><text x="359" y="954.8">proteasomal</text><text x="359" y="968.6">ubiquitin-dependent</text><text x="359" y="982.4">protein catabolic</text><text x="359" y="996.2">process</text><text x="328.5" y="1017.6">Human</text><text x="390.5" y="1017.6">UBQLN4</text></g>
<g id="n_rdsbrhr" class="n"><rect x="689" y="937" width="101" height="76"/><text x="739.5" y="952">regulation of</text><text x="739.5" y="965.8">double-strand</text><text x="739.5" y="979.6">break repair</text><text x="739.5" y="993.4">via homologous</text><text x="739.5" y="1007.2">recombination</text></g>
<g id="n_nrdsbr" class="n"><rect x="837" y="950" width="119" height="50"/><text x="896.5" y="965.8">negative regulation</text><text x="896.5" y="979.6">of double-strand</text><text x="896.5" y="993.4">break repair</text></g>
<g id="n_nrdsbrhr" class="n"><rect x="759" y="1060" width="119" height="76"/><rect class="h" x="759" y="1136" width="59" height="21"/><rect class="h" x="818" y="1136" width="60" height="21"/><text x="818.5" y="1075">negative regulation</text><text x="818.5" y="1088.8">of double-strand</text><text x="818.5" y="1102.6">break repair</text><text x="818.5" y="1116.4">via homologous</text><text x="818.5" y="1130.2">recombination</text><text x="788.5" y="1151.1">Human</text><text x="848" y="1151.1">UBQLN4</text></g>
</svg>
